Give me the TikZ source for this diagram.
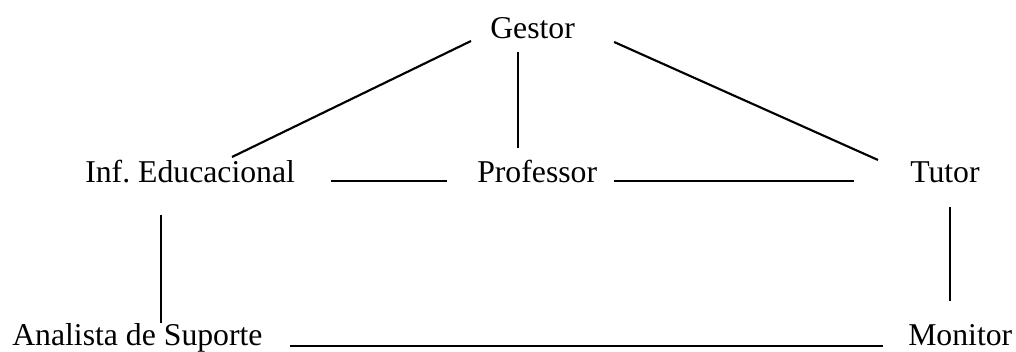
\documentclass[tikz,border=0pt]{standalone}
\usepackage{fontspec}
\setmainfont{Liberation Serif}
\usepackage{tikz}
\usetikzlibrary{calc}
\frenchspacing

\begin{document}
\begin{tikzpicture}[x=0.75pt,y=-0.75pt,
  role/.style={inner sep=0pt,anchor=base west,font=\fontsize{23.8pt}{28pt}\selectfont},
  ln/.style={line width=1.6pt}]
\useasboundingbox (0,0) rectangle (1016,352);
% roles
\node[role] (ges) at (490,39) {Gestor};
\node[role] (inf) at (85,183) {Inf. Educacional};
\node[role] (prof) at (477,183) {Professor};
\node[role] (tut) at (910,183) {Tutor};
\node[role] (ana) at (12,345) {Analista de Suporte};
\node[role] (mon) at (908,345) {Monitor};
% links
\draw[ln] ($(ges.base west)+(-19,2)$) -- ($(inf.base west)+(147,-26)$);
\draw[ln] ($(ges.base west)+(28,13)$) -- ($(prof.base west)+(41,-35)$);
\draw[ln] ($(ges.base east)+(39,3)$) -- ($(tut.base west)+(-32,-23)$);
\draw[ln] ($(inf.base east)+(36,-2)$) -- ($(prof.base west)+(-30,-2)$);
\draw[ln] ($(prof.base east)+(17,-2)$) -- ($(tut.base west)+(-56,-2)$);
\draw[ln] ($(inf.base west)+(76,32)$) -- ($(ana.base west)+(149,-22)$);
\draw[ln] ($(tut.base west)+(40,24)$) -- ($(mon.base west)+(42,-44)$);
\draw[ln] ($(ana.base east)+(27,1)$) -- ($(mon.base west)+(-25,1)$);
\end{tikzpicture}
\end{document}
